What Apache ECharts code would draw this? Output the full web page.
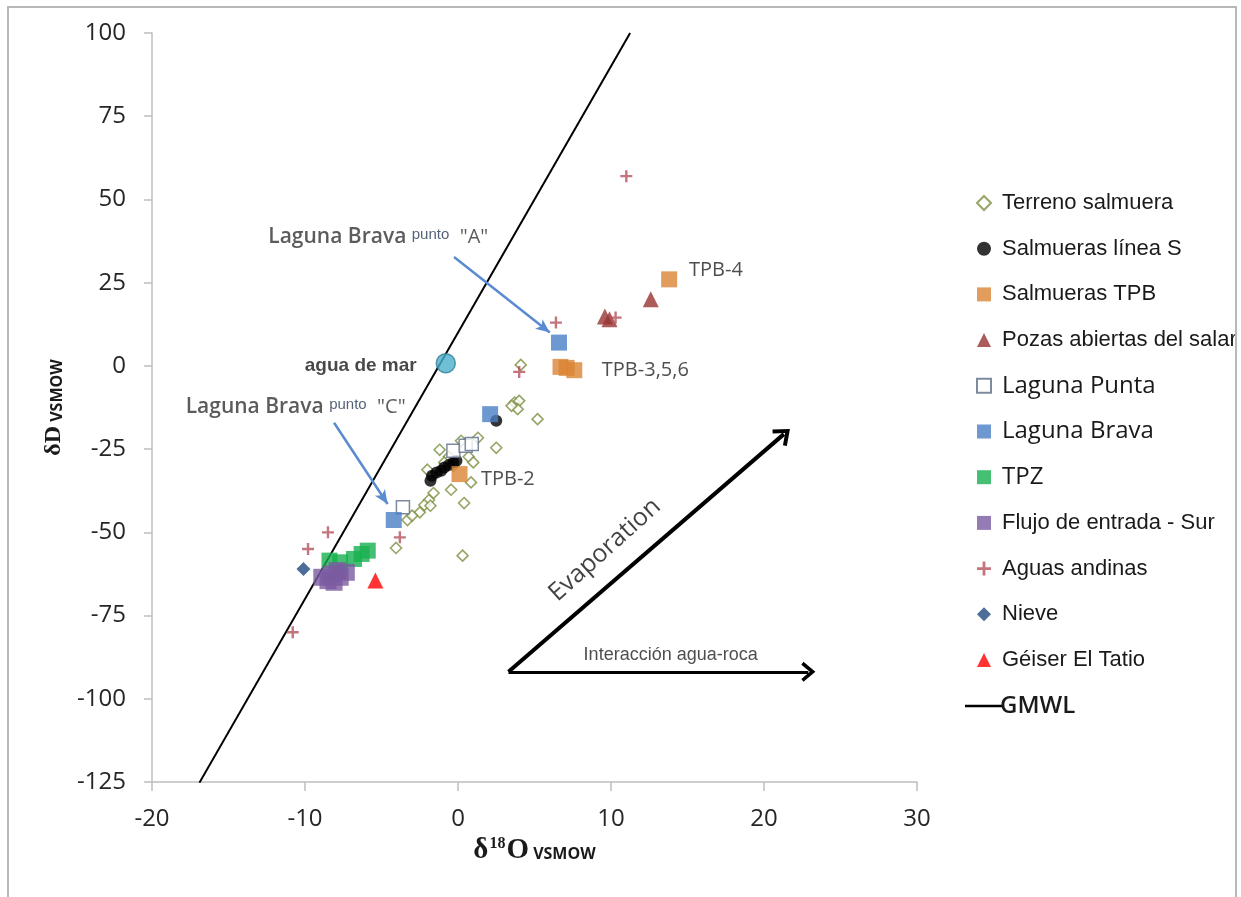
<!DOCTYPE html>
<html><head><meta charset="utf-8">
<script src="https://cdn.jsdelivr.net/npm/echarts@6/dist/echarts.min.js"></script>
<style>html,body{margin:0;padding:0;background:#fff}#c{width:1241px;height:897px}</style>
</head><body><div id="c"></div><script>
// ---- data (δ18O, δD) ----
const xTicksMin = -20, xTicksMax = 30, xTickStep = 10;
const yTicksMin = -125, yTicksMax = 100, yTickStep = 25;

const terrenoX = [4.1, 3.7, 4.0, 3.9, 3.5, 5.2, 1.3, 2.5, 0.7, 1.0, -1.2, -0.6, -2.0, 0.85, -0.45, -1.6, -1.9, -2.2, -2.5, -1.8, 0.4, -3.3, -4.05, 0.3, -0.3, 0.2, -0.9, -3.0];
const terrenoY = [0.3, -11, -10.5, -13, -12, -16, -21.6, -24.6, -27.3, -29, -25.2, -27.3, -31.2, -35, -37.2, -38.2, -40.3, -41.8, -44, -42, -41.2, -46.3, -54.7, -57, -30, -22.5, -29, -45];
const lineaSX = [-1.8, -1.7, -1.4, -1.1, -0.9, -0.6, -0.3, -0.1, 2.5];
const lineaSY = [-34.5, -33, -32, -31.5, -30.5, -29.8, -29, -28.5, -16.5];
const tpbX = [0.1, 6.7, 7.1, 7.6, 13.8];
const tpbY = [-32.5, -0.3, -0.6, -1.3, 26];
const pozasX = [9.6, 9.9, 12.6];
const pozasY = [14.8, 14, 20];
const puntaX = [-0.3, 0.5, 0.9, -3.6];
const puntaY = [-25.5, -24, -23.5, -42.5];
const bravaX = [6.6, 2.1, -4.2];
const bravaY = [7, -14.5, -46.3];
const tpzX = [-8.4, -7.7, -6.8, -6.3, -5.9];
const tpzY = [-58.5, -59, -58, -56.5, -55.5];
const flujoX = [-8.9, -8.5, -8.1, -7.7, -7.3, -8.3, -7.9];
const flujoY = [-63.5, -64.5, -65, -63.5, -62, -62.5, -61.5];
const andinasX = [11, 6.4, 10.3, 4.0, -3.8, -8.5, -9.8, -10.8];
const andinasY = [57, 13, 14.5, -1.8, -51.5, -50, -55, -80];
const nieveX = [-10.1];
const nieveY = [-61];
const geiserX = [-5.4];
const geiserY = [-64.5];
const marX = [-0.8];
const marY = [0.8];
// GMWL: δD = 8·δ18O + 10 (end points)
const gmwlX = [-16.9, 11.25];
const gmwlY = [-125.2, 100];

// annotation arrows [x1, y1, x2, y2]
const arrowA = [-0.26, 32.7, 6.0, 10.0];
const arrowC = [-8.1, -17.1, -4.6, -41.5];
const arrowEvap = [3.3, -91.9, 21.3, -20.5];
const arrowRoca = [3.3, -91.9, 22.9, -91.9];

// annotation texts and anchor positions
const annotTexts = ['agua de mar', 'TPB-4', 'TPB-3,5,6', 'TPB-2', 'Laguna Brava punto "A"', 'Laguna Brava punto "C"', 'Evaporation', 'Interacción agua-roca'];
const annotX = [-2.7, 15.1, 9.4, 1.5, -12.4, -17.8, 9.6, 13.9];
const annotY = [0, 28.8, -1.2, -34.2, 38.7, -12.3, -55.3, -86.8];

const names = ['Terreno salmuera', 'Salmueras línea S', 'Salmueras TPB', 'Pozas abiertas del salar', 'Laguna Punta', 'Laguna Brava', 'TPZ', 'Flujo de entrada - Sur', 'Aguas andinas', 'Nieve', 'Géiser El Tatio', 'GMWL'];

// ---- building ----
const zip = (a, b) => a.map((v, i) => [v, b[i]]);
const plusPath = 'path://M4,0H6V4H10V6H6V10H4V6H0V4H4Z';
const chevron = 'path://M7,0L14,9L12,10.6L7,4.2L2,10.6L0,9Z';
const NARROW = '"Liberation Sans",Arial,sans-serif';
const CAL = '"Open Sans",sans-serif';

function sc(name, xs, ys, symbol, size, style, z) {
  return { type: 'scatter', name, data: zip(xs, ys), symbol, symbolSize: size, itemStyle: style, z: z || 2, animation: false };
}

const series = [
  sc(names[0], terrenoX, terrenoY, 'diamond', 11, { color: '#ffffff', borderColor: '#7A8F3E', borderWidth: 1.6 }),
  sc(names[1], lineaSX, lineaSY, 'circle', 12, { color: '#000000' }),
  sc(names[2], tpbX, tpbY, 'rect', 16, { color: '#DB8434' }),
  sc(names[3], pozasX, pozasY, 'triangle', 16, { color: '#993333' }),
  sc(names[4], puntaX, puntaY, 'rect', 13, { color: '#ffffff', borderColor: '#5E6E86', borderWidth: 1.5 }),
  sc(names[5], bravaX, bravaY, 'rect', 16, { color: '#4A7EC4' }),
  sc(names[6], tpzX, tpzY, 'rect', 16, { color: '#16B04F' }),
  sc(names[7], flujoX, flujoY, 'rect', 17, { color: '#7A5AA0' }),
  sc(names[8], andinasX, andinasY, plusPath, 12, { color: '#B4515B' }),
  sc(names[9], nieveX, nieveY, 'diamond', 14, { color: '#1F497D' }),
  sc(names[10], geiserX, geiserY, 'triangle', 16, { color: '#FF0000' }),
  {
    type: 'line', name: names[11], data: zip(gmwlX, gmwlY), symbol: 'none', showSymbol: false,
    lineStyle: { color: '#000', width: 2 }, itemStyle: { color: '#000' }, clip: true, z: 1, animation: false
  },
  sc('agua de mar', marX, marY, 'circle', 19, { color: '#4BB0CC', borderColor: '#2E7F99', borderWidth: 1.5 }, 3)
];

// annotation labels
const labelStyles = [
  { position: 'left', distance: 0, fontFamily: 'Liberation Sans', fontWeight: 'bold', fontSize: 19, color: '#1a1a1a' },
  { position: 'right', distance: 0, fontFamily: CAL, fontSize: 20, color: '#222' },
  { position: 'right', distance: 0, fontFamily: CAL, fontSize: 20, color: '#222' },
  { position: 'right', distance: 0, fontFamily: CAL, fontSize: 20, color: '#222' },
  { position: 'right', distance: 0, rich: 'lb' },
  { position: 'right', distance: 0, rich: 'lb' },
  { position: 'inside', fontFamily: CAL, fontSize: 25, color: '#111', rotate: 42 },
  { position: 'inside', fontFamily: NARROW, fontSize: 18, color: '#222' }
];
const richLB = {
  a: { fontFamily: CAL, fontSize: 21, fontWeight: 600, color: '#333' },
  p: { fontFamily: NARROW, fontSize: 15, color: '#2a3a55', padding: [0, 0, 4, 0] },
  q: { fontFamily: CAL, fontSize: 20, color: '#333' }
};
const annotData = annotTexts.map((t, i) => {
  const st = labelStyles[i];
  let label;
  if (st.rich) {
    const m = t.match(/^(Laguna Brava) (punto) (.*)$/);
    label = { show: true, position: st.position, distance: st.distance, formatter: '{a|' + m[1] + ' }{p|' + m[2] + '}{q|  ' + m[3] + '}', rich: richLB };
  } else {
    label = Object.assign({ show: true, formatter: t }, st);
  }
  return { value: [annotX[i], annotY[i]], label };
});

function seg(a, color, width, sym, symSize) {
  return [
    { coord: [a[0], a[1]], symbol: 'none', lineStyle: { color, width, type: 'solid' } },
    { coord: [a[2], a[3]], symbol: sym, symbolSize: symSize, lineStyle: { color, width, type: 'solid' } }
  ];
}

series.push({
  type: 'scatter', name: 'anot', data: annotData, symbolSize: 0, silent: true, z: 5, animation: false,
  markLine: {
    silent: true, animation: false, label: { show: false }, symbol: ['none', 'arrow'],
    data: [
      seg(arrowA, '#5A8BD0', 2.5, 'arrow', [9, 14]),
      seg(arrowC, '#5A8BD0', 2.5, 'arrow', [9, 14]),
      seg(arrowEvap, '#000', 4, chevron, [22, 16]),
      seg(arrowRoca, '#000', 3, chevron, [20, 14])
    ]
  }
});

const axisCol = '#BFBFBF';
const legendItems = names.slice(0, 11).map((n, i) => {
  const o = { name: n };
  if (i === 4 || i === 5 || i === 6) o.textStyle = { fontFamily: CAL, fontSize: 24, color: '#1a1a1a' };
  return o;
});

const option = {
  backgroundColor: '#ffffff',
  animation: false,
  grid: { left: 152, right: 324, top: 33, bottom: 115, containLabel: false },
  xAxis: {
    type: 'value', min: xTicksMin, max: xTicksMax, interval: xTickStep,
    axisLine: { show: true, onZero: false, lineStyle: { color: axisCol, width: 1.5 } },
    axisTick: { show: true, length: 9, lineStyle: { color: axisCol, width: 1.5 } },
    splitLine: { show: false },
    axisLabel: { fontFamily: CAL, fontSize: 24, color: '#262626', margin: 25 },
    name: '{d|δ}{sup|18}{d|O}{sub| VSMOW}', nameLocation: 'middle', nameGap: 46,
    nameTextStyle: {
      rich: {
        d: { fontFamily: 'Liberation Serif', fontWeight: 'bold', fontSize: 29, color: '#1a1a1a' },
        sup: { fontFamily: 'Liberation Serif', fontWeight: 'bold', fontSize: 16, color: '#1a1a1a', verticalAlign: 'top', padding: [0, 1, 10, 1] },
        sub: { fontFamily: CAL, fontWeight: 'bold', fontSize: 16, color: '#1a1a1a', padding: [8, 0, 0, 0] }
      }
    }
  },
  yAxis: {
    type: 'value', min: yTicksMin, max: yTicksMax, interval: yTickStep,
    axisLine: { show: true, onZero: false, lineStyle: { color: axisCol, width: 1.5 } },
    axisTick: { show: true, length: 8, lineStyle: { color: axisCol, width: 1.5 } },
    splitLine: { show: false },
    axisLabel: { fontFamily: CAL, fontSize: 24, color: '#262626', margin: 26 },
    name: '{d|δD}{sub| VSMOW}', nameLocation: 'middle', nameGap: 72, nameRotate: 90,
    nameTextStyle: {
      rich: {
        d: { fontFamily: 'Liberation Serif', fontWeight: 'bold', fontSize: 24, color: '#1a1a1a' },
        sub: { fontFamily: CAL, fontWeight: 'bold', fontSize: 16, color: '#1a1a1a', padding: [7, 0, 0, 0] }
      }
    }
  },
  legend: [
    {
      orient: 'vertical', left: 971, top: 183, itemWidth: 14, itemHeight: 14, itemGap: 15.7,
      data: legendItems, selectedMode: false,
      textStyle: { fontFamily: NARROW, fontSize: 22, color: '#1a1a1a', lineHeight: 30, padding: [0, 0, 0, 6] }
    },
    {
      orient: 'vertical', left: 960, top: 686, itemWidth: 38, itemHeight: 14,
      data: [{ name: names[11], icon: 'path://M0,0H40V2.4H0Z', itemStyle: { color: '#000' } }], selectedMode: false,
      textStyle: { fontFamily: CAL, fontSize: 24, fontWeight: 600, color: '#1a1a1a', lineHeight: 30, padding: [0, 0, 0, -8] }
    }
  ],
  graphic: [
    { type: 'rect', shape: { x: 8, y: 7, width: 1228, height: 900 }, style: { fill: 'none', stroke: '#B8B8B8', lineWidth: 2 }, silent: true, z: 100 }
  ],
  series
};

const chart = echarts.init(document.getElementById('c'), null, { renderer: 'canvas' });
chart.setOption(option);
</script></body></html>
